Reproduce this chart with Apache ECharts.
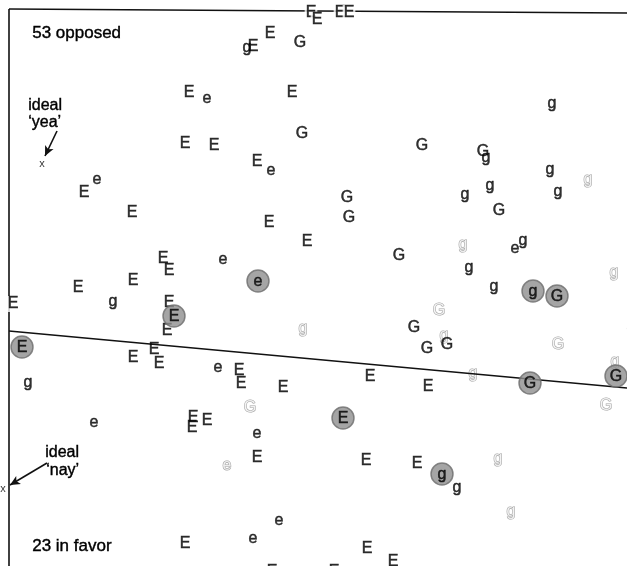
<!DOCTYPE html>
<html>
<head>
<meta charset="utf-8">
<script src="https://cdn.jsdelivr.net/npm/echarts@6/dist/echarts.min.js"></script>
<style>html,body{margin:0;padding:0;background:#fff}#c{width:627px;height:566px}</style>
</head>
<body>
<div id="c"></div>
<script>
// Positions of each legislator letter in the plane (x to the right, y downward)
const blackE = [[270,33],[253,46],[189,92],[292,92],[185,143],[214,145],[257,161],[84,192],[132,212],[269,222],[307,241],[163,258],[169,270],[133,280],[78,287],[169,302],[167,330],[154,349],[133,357],[159,363],[239,370],[241,383],[283,387],[370,376],[428,386],[193,417],[207,420],[192,427],[257,457],[366,460],[417,463],[185,543],[367,548],[393,561],[272,571],[334,571]];
const edgeE = [[311,12],[317,19],[340,12],[349,12],[13,303]];
const blacke = [[207,98],[271,170],[97,179],[223,259],[515,248],[218,367],[94,422],[257,433],[279,520],[253,538]];
const blackG = [[300,42],[302,133],[422,145],[483,151],[347,197],[499,210],[349,217],[399,255],[414,327],[427,348],[447,344]];
const blackg = [[247,47],[552,103],[486,157],[550,169],[490,185],[465,194],[558,191],[523,240],[469,267],[494,286],[113,301],[631,328],[28,382],[457,487]];
const grayG = [[439,310],[558,344],[606,405],[250,407]];
const grayg = [[588,179],[463,244],[614,272],[303,328],[444,335],[615,361],[473,373],[498,458],[511,511]];
const graye = [[227,465]];
const circE = [[174,316],[22,347],[343,418]];
const circe = [[258,281]];
const circG = [[557,296],[530,383],[616,376]];
const circg = [[533,291],[442,474]];
const idealPts = [[42,163],[3,488]];
// Lines: frame, cutting line, arrows
const frameTop = [[9,9],[627,13]];
const frameLeft = [[9,9],[9,566]];
const cutLine = [[9,331],[627,388]];
const arrowYea = [[57,131],[45,156]];
const arrowNay = [[47,463],[10,485]];
const labels = {opposed:'53 opposed', favor:'23 in favor', ideal:'ideal', yea:'\u2018yea\u2019', nay:'\u2018nay\u2019'};

const FONT = 'Liberation Sans';
function letterSeries(data, ch, style, z) {
  const lab = {show:true, position:'inside', offset:[0,1], formatter:ch, fontSize:16, fontFamily:FONT,
    color:'#000', textBorderColor:'#000', textBorderWidth:0.5};
  Object.assign(lab, style || {});
  return {type:'scatter', data:data, symbol:'circle', symbolSize:1, clip:false, silent:true, z:z||5,
    itemStyle:{color:'rgba(0,0,0,0)'}, label:lab, emphasis:{disabled:true}};
}
function circleSeries(data, ch) {
  return {type:'scatter', data:data, symbol:'circle', symbolSize:22, clip:false, silent:true, z:6,
    itemStyle:{color:'#8e8e8e', borderColor:'#6e6e6e', borderWidth:1.5},
    label:{show:true, position:'inside', offset:[0,1], formatter:ch, fontSize:16, fontFamily:FONT,
      color:'#000', textBorderColor:'#000', textBorderWidth:0.5},
    emphasis:{disabled:true}};
}
const grayStyle = {color:'#fff', textBorderColor:'#8a8a8a', textBorderWidth:1.1};
function seg(p, arrow) {
  return [{coord:p[0], symbol:'none'}, {coord:p[1], symbol: arrow ? 'arrow' : 'none', symbolSize: arrow ? [7,10] : 0}];
}
const txt = (t, size) => ({text:t, font:size+'px "'+FONT+'"', fill:'#000', stroke:'#000', lineWidth:0.4});

const chart = echarts.init(document.getElementById('c'));
chart.setOption({
  animation:false,
  grid:{left:0, right:0, top:0, bottom:0},
  xAxis:{type:'value', min:0, max:627, show:false},
  yAxis:{type:'value', min:0, max:566, inverse:true, show:false},
  series:[
    {type:'line', data:[], z:1, silent:true,
      markLine:{silent:true, animation:false, symbol:'none', label:{show:false},
        lineStyle:{color:'#111', width:1.6, type:'solid'},
        data:[seg(frameTop), seg(frameLeft), seg(cutLine), seg(arrowYea,true), seg(arrowNay,true)]}},
    letterSeries(grayg, 'g', grayStyle, 3),
    letterSeries(grayG, 'G', grayStyle, 3),
    letterSeries(graye, 'e', grayStyle, 3),
    letterSeries(blackg, 'g'),
    letterSeries(blackE, 'E'),
    letterSeries(blacke, 'e'),
    letterSeries(blackG, 'G'),
    letterSeries(edgeE, 'E', {backgroundColor:'#fff', padding:[0,1]}),
    circleSeries(circE, 'E'),
    circleSeries(circe, 'e'),
    circleSeries(circG, 'G'),
    circleSeries(circg, 'g'),
    letterSeries(idealPts, 'x', {fontSize:11, textBorderWidth:0})
  ],
  graphic:[
    {type:'text', left:32, top:25, style:txt(labels.opposed, 17)},
    {type:'text', left:32, top:538, style:txt(labels.favor, 17)},
    {type:'text', left:28, top:97, style:txt(labels.ideal, 16)},
    {type:'text', left:28, top:114, style:txt(labels.yea, 16)},
    {type:'text', left:45, top:444, style:txt(labels.ideal, 16)},
    {type:'text', left:46, top:462, style:txt(labels.nay, 16)}
  ]
});
</script>
</body>
</html>
